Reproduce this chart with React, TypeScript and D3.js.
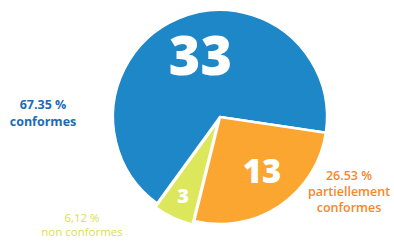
import * as d3 from "d3";

const categories = ["conformes", "partiellement conformes", "non conformes"];
const counts = [33, 13, 3];
const percentLabels = ["67.35 %", "26.53 %", "6,12 %"];
const labelLines = [["conformes"], ["partiellement", "conformes"], ["non conformes"]];

const sliceColors = ["#1d87c8", "#fba630", "#dde75c"];
const textColors = ["#1c6bb3", "#f7871f", "#dbe04c"];

const W = 394;
const H = 248;
const CX = 220;
const CY = 117;
const R = 107;

// side labels: x center, first baseline, line gap, size, weight
const labelPos = [
  { x: 43, y: 109, gap: 17, size: 12.5, weight: 700 },
  { x: 349, y: 180, gap: 16, size: 12.5, weight: 600 },
  { x: 82, y: 222, gap: 14, size: 11.5, weight: 500 },
];
// radius factor, angle nudge (deg) + font size for the counts in the slices
const valueStyle = [
  { k: 0.6, da: 5, size: 54 },
  { k: 0.64, da: -4, size: 33 },
  { k: 0.78, da: 0, size: 20 },
];
const explode = [0, 0, 4];

export default function App() {
  const start = (216 / 180) * Math.PI;
  const pie = d3
    .pie<number>()
    .sort(null)
    .startAngle(start)
    .endAngle(start + 2 * Math.PI);
  const arcs = pie(counts);
  const arc = d3.arc<d3.PieArcDatum<number>>().innerRadius(0).outerRadius(R);

  return (
    <svg width={W} height={H} style={{ position: "absolute", left: 0, top: 0, background: "#fff" }}>
      <g transform={`translate(${CX},${CY})`}>
        {arcs.map((a, i) => {
          const mid = (a.startAngle + a.endAngle) / 2;
          const ox = Math.sin(mid) * explode[i];
          const oy = -Math.cos(mid) * explode[i];
          const va = mid + (valueStyle[i].da * Math.PI) / 180;
          const vr = R * valueStyle[i].k;
          return (
            <g key={categories[i]} transform={`translate(${ox},${oy})`}>
              <path d={arc(a) || ""} fill={sliceColors[i]} stroke="#fff" strokeWidth={2.5} strokeLinejoin="round" />
              <text
                x={Math.sin(va) * vr}
                y={-Math.cos(va) * vr}
                dy="0.36em"
                textAnchor="middle"
                fill="#fff"
                fontFamily="'Open Sans', Lato, sans-serif"
                fontWeight={800}
                fontSize={valueStyle[i].size}
              >
                {counts[i]}
              </text>
            </g>
          );
        })}
      </g>
      {categories.map((c, i) => (
        <text
          key={c}
          x={labelPos[i].x}
          y={labelPos[i].y}
          textAnchor="middle"
          fill={textColors[i]}
          fontFamily="'Open Sans', Lato, sans-serif"
          fontWeight={labelPos[i].weight}
          fontSize={labelPos[i].size}
        >
          <tspan x={labelPos[i].x}>{percentLabels[i]}</tspan>
          {labelLines[i].map((l, j) => (
            <tspan key={j} x={labelPos[i].x} dy={labelPos[i].gap}>
              {l}
            </tspan>
          ))}
        </text>
      ))}
    </svg>
  );
}
